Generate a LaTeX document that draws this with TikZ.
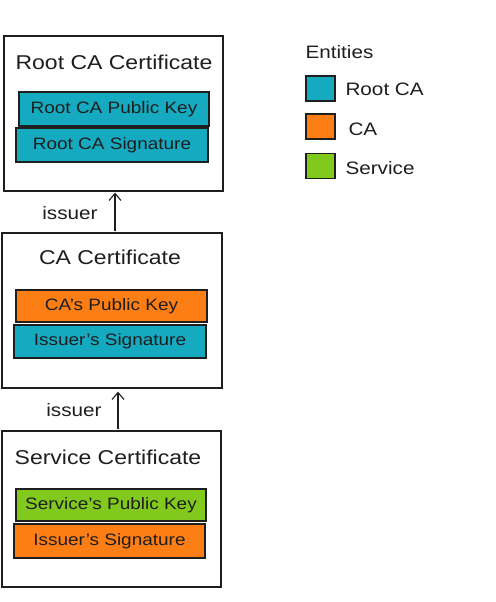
\documentclass[tikz,border=0pt]{standalone}
\usepackage{fontspec}
\setmainfont[FakeStretch=1.15]{Liberation Sans}
\usetikzlibrary{arrows.meta,calc}
\definecolor{teal}{HTML}{15AABF}
\definecolor{orng}{HTML}{FD7E14}
\definecolor{grn}{HTML}{82C91E}
\definecolor{ink}{HTML}{1E1E1E}
\tikzset{
  cert/.style={draw=ink,line width=1.3pt,fill=white,rectangle,inner sep=0pt},
  field/.style={draw=ink,line width=1.1pt,rectangle,inner sep=0pt,font=\fontsize{16.5}{19}\selectfont,text=ink},
  title/.style={font=\fontsize{20}{23}\selectfont,text=ink},
  lbl/.style={font=\fontsize{18}{21}\selectfont,text=ink},
  swatch/.style={draw=ink,line width=1.1pt,rectangle,minimum width=29pt,minimum height=25pt,inner sep=0pt},
  arr/.style={draw=ink,line width=1.1pt,-{Straight Barb[length=7pt,width=12pt,line width=1.1pt]}}
}
\begin{document}
\begin{tikzpicture}[x=1pt,y=-1pt]
\useasboundingbox (0,0) rectangle (495,602);
% Root CA certificate
\node[cert,minimum width=219pt,minimum height=155pt] (rootbox) at (113.5,113.5) {};
\node[title] (roottitle) at (114,62) {Root CA Certificate};
\node[field,fill=teal,minimum width=190pt,minimum height=34pt] (rootpub) at (114,109) {Root CA Public Key};
\node[field,fill=teal,minimum width=192pt,minimum height=34pt] (rootsig) at (112,145) {Root CA Signature};
% CA certificate
\node[cert,minimum width=220pt,minimum height=155pt] (cabox) at (112,310.5) {};
\node[title] (catitle) at (110,257) {CA Certificate};
\node[field,fill=orng,minimum width=191pt,minimum height=32pt] (capub) at (111.5,306) {CA's Public Key};
\node[field,fill=teal,minimum width=192pt,minimum height=33pt] (casig) at (110,341.5) {Issuer's Signature};
% Service certificate
\node[cert,minimum width=219pt,minimum height=156pt] (svcbox) at (111.5,509) {};
\node[title] (svctitle) at (108,457) {Service Certificate};
\node[field,fill=grn,minimum width=190pt,minimum height=32pt] (svcpub) at (111,505) {Service's Public Key};
\node[field,fill=orng,minimum width=191pt,minimum height=34pt] (svcsig) at (109.5,541) {Issuer's Signature};
% arrows
\draw[arr] ($(cabox.north)+(3,-1)$) -- ($(rootbox.south)+(1.5,1)$);
\node[lbl] (iss1) at (70,213) {issuer};
\draw[arr] ($(svcbox.north)+(6.5,-1)$) -- ($(cabox.south)+(6,3)$);
\node[lbl] (iss2) at (74,410) {issuer};
% legend
\node[lbl,anchor=west] (enttitle) at (302,52) {Entities};
\node[swatch,fill=teal] (swroot) at (320.5,88.5) {};
\node[swatch,fill=orng] (swca) at (320.5,126.5) {};
\node[swatch,fill=grn] (swsvc) at (320.5,166) {};
\node[lbl,anchor=west] (lroot) at (342,89) {Root CA};
\node[lbl,anchor=west] (lca) at (345,129) {CA};
\node[lbl,anchor=west] (lsvc) at (342,168) {Service};
\end{tikzpicture}
\end{document}
